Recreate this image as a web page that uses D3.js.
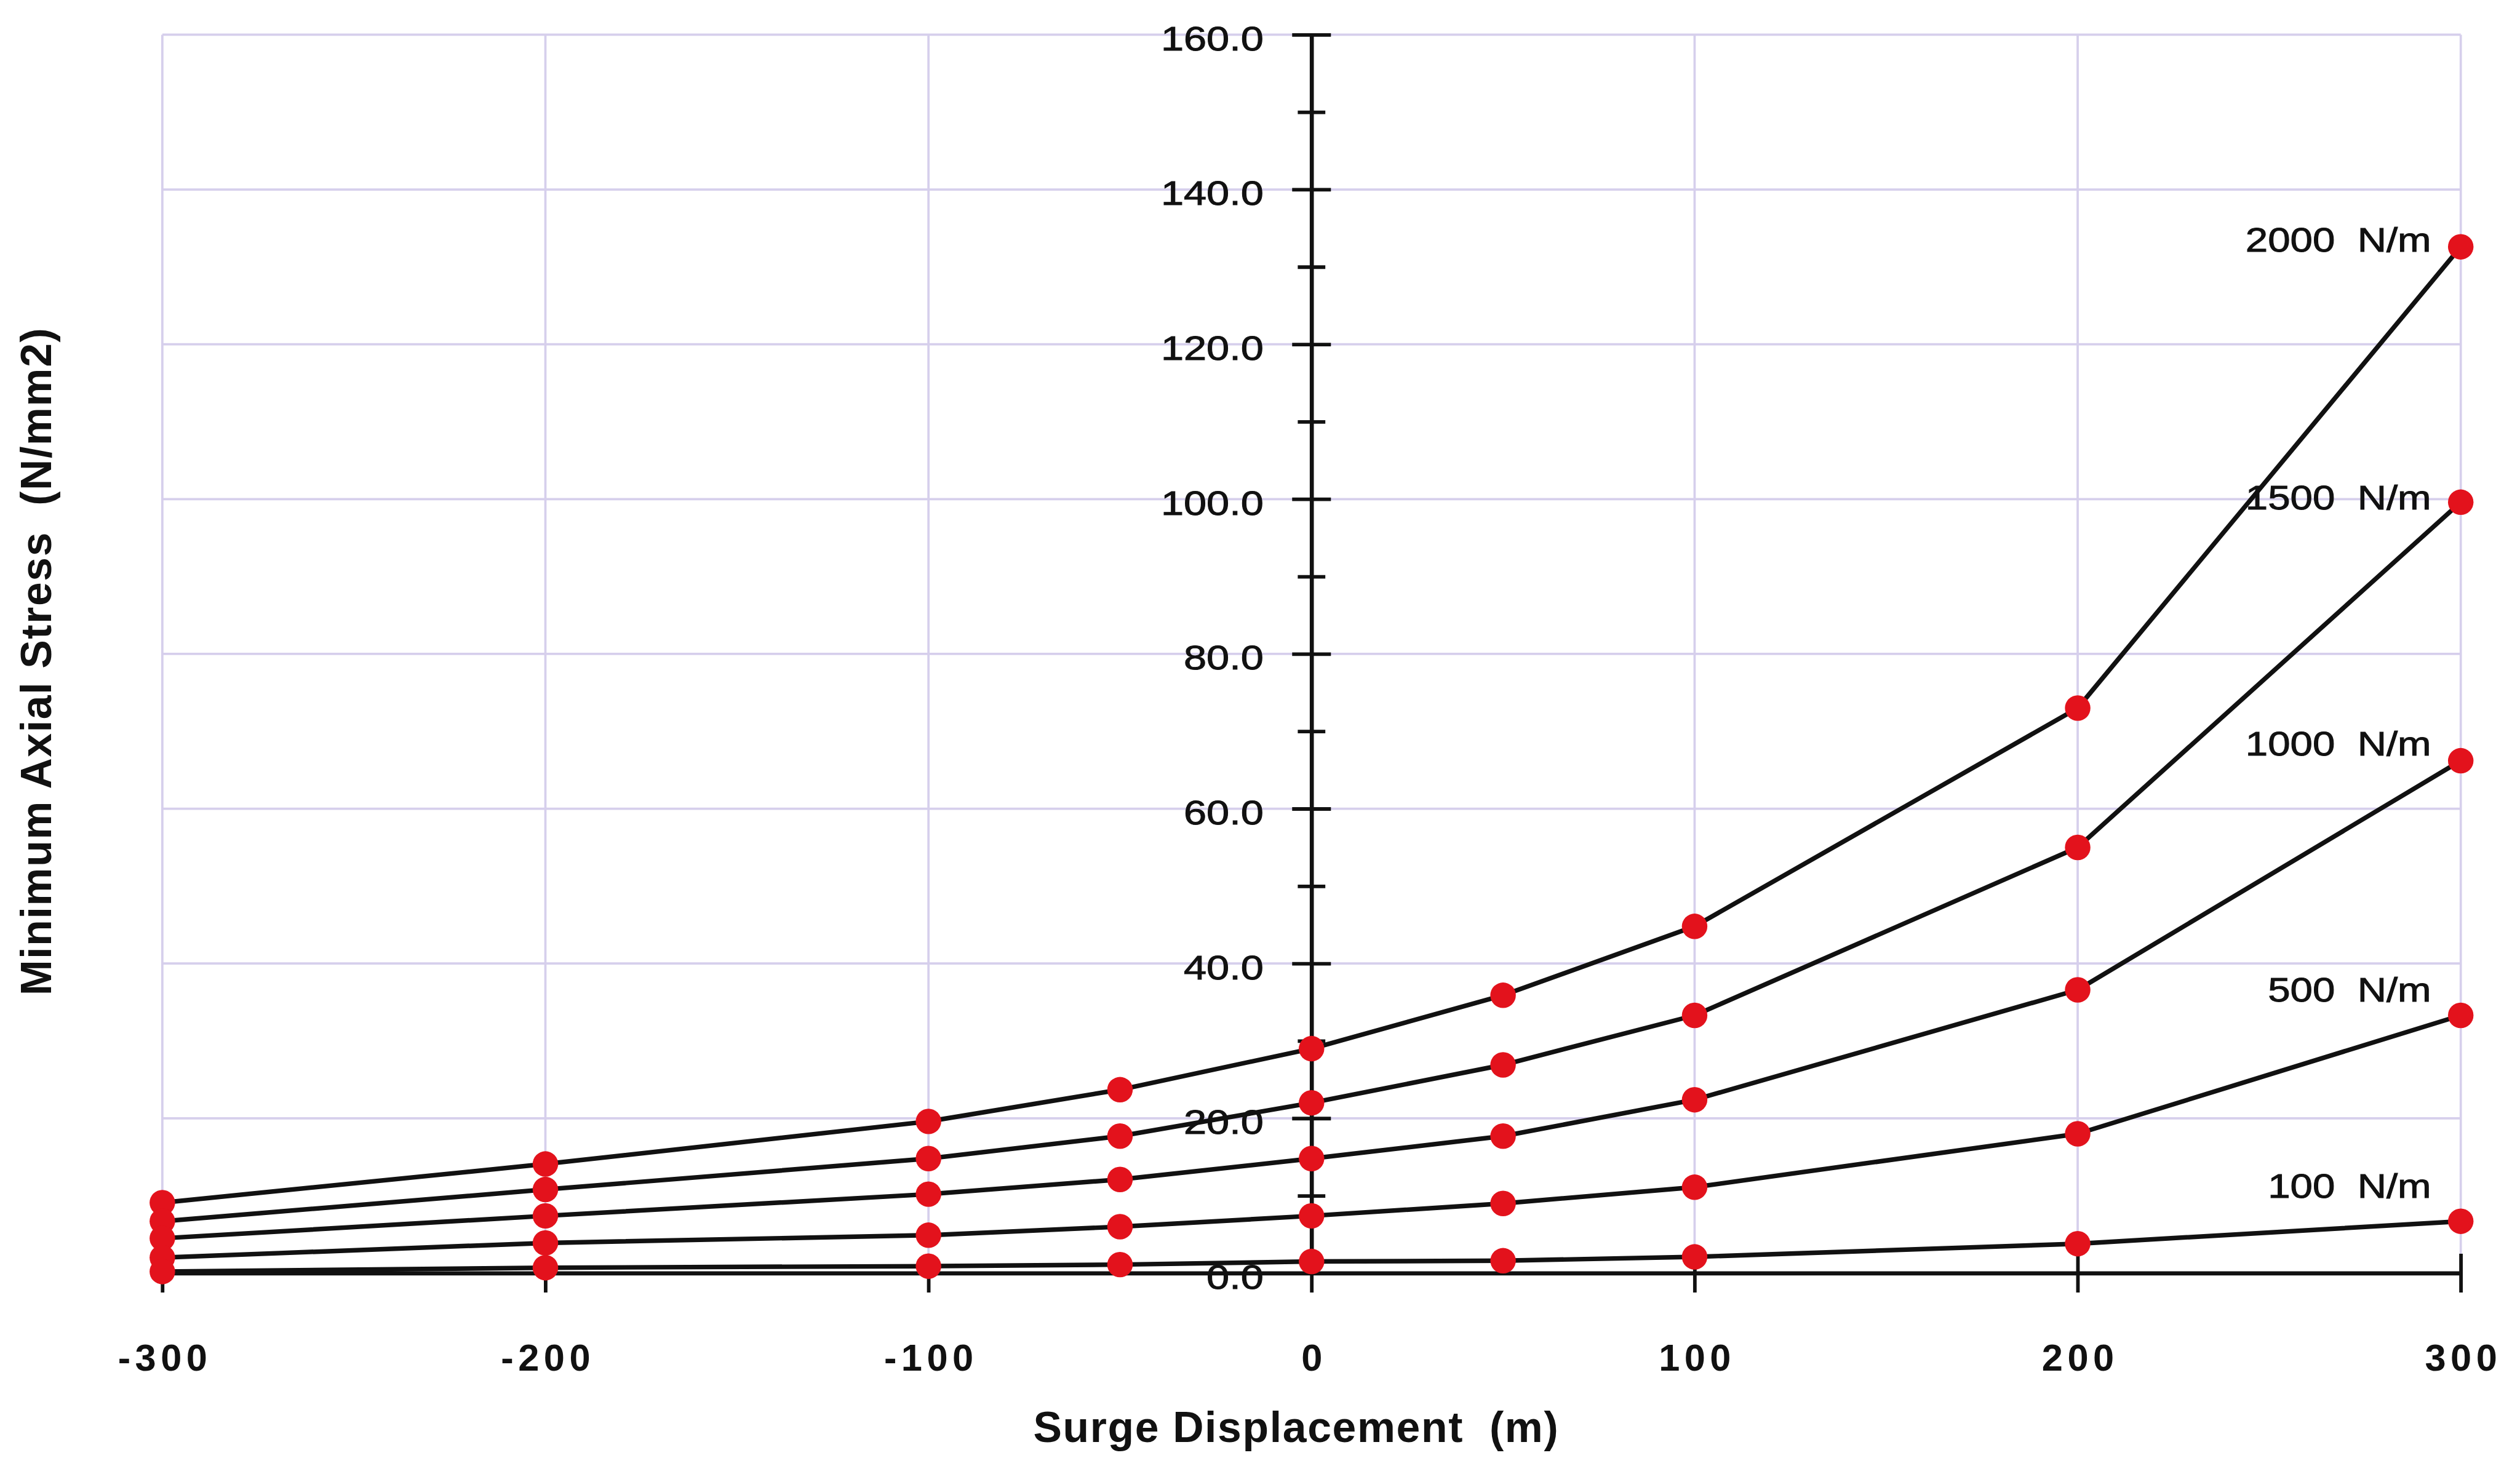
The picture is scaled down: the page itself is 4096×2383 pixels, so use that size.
<!DOCTYPE html>
<html>
<head>
<meta charset="utf-8">
<script src="https://cdn.jsdelivr.net/npm/d3@7"></script>
<style>
  html, body { margin: 0; padding: 0; background: #ffffff; overflow: hidden; }
  svg { display: block; }
  text { font-family: "Liberation Sans", Arial, Helvetica, sans-serif; white-space: pre; }
</style>
</head>
<body>
<svg id="chart" width="4096" height="2383" viewBox="0 0 4938 2873"></svg>
<script>
// Surge displacement (m) at which the stress was evaluated
const surge = [-300, -200, -100, -50, 0, 50, 100, 200, 300];

// Minimum axial stress (N/mm2) for each line load
const stress2000 = [9.1, 14.1, 19.6, 23.7, 29.0, 35.9, 44.8, 73.0, 132.6];
const stress1500 = [6.7, 10.8, 14.8, 17.7, 22.0, 26.9, 33.3, 55.0, 99.6];
const stress1000 = [4.5, 7.4, 10.2, 12.1, 14.8, 17.7, 22.4, 36.6, 66.2];
const stress500  = [2.0, 3.9, 4.9, 6.0, 7.4, 9.0, 11.1, 18.0, 33.3];
const stress100  = [0.2, 0.7, 0.9, 1.1, 1.5, 1.6, 2.1, 3.8, 6.7];

const seriesNames = ["2000  N/m", "1500  N/m", "1000  N/m", "500  N/m", "100  N/m"];

const xTickValues = [-300, -200, -100, 0, 100, 200, 300];
const yTickValues = [0, 10, 20, 30, 40, 50, 60, 70, 80, 90, 100, 110, 120, 130, 140, 150, 160];

const xTitle = "Surge Displacement  (m)";
const yTitle = "Minimum Axial Stress  (N/mm2)";

// ---- drawing ----
const series = [stress2000, stress1500, stress1000, stress500, stress100];
// vertical nudge of each end label relative to its last point (px)
const labelNudge = [10, 14, -10, -27, -46];
const ink = "#111";

const svg = d3.select("#chart");
const x = d3.scaleLinear().domain([-300, 300]).range([318, 4822]);
const y = d3.scaleLinear().domain([0, 160]).range([2495, 68]);

// light lavender grid
const grid = svg.append("g").attr("stroke", "#d6cfec").attr("stroke-width", 4.5);
grid.selectAll("line.h")
  .data(yTickValues.filter(v => v > 0 && v % 20 === 0))
  .join("line").attr("class", "h")
  .attr("x1", x(-300)).attr("x2", x(300))
  .attr("y1", d => y(d)).attr("y2", d => y(d));
grid.selectAll("line.v")
  .data(xTickValues.filter(v => v !== 0))
  .join("line").attr("class", "v")
  .attr("x1", d => x(d)).attr("x2", d => x(d))
  .attr("y1", y(0)).attr("y2", y(160));

// y axis through x = 0
const yAxis = svg.append("g")
  .attr("transform", `translate(${x(0)},0)`)
  .call(d3.axisLeft(y).tickValues(yTickValues).tickSize(0).tickSizeOuter(0)
    .tickFormat(d => d % 20 === 0 ? d.toFixed(1) : ""));
yAxis.attr("font-family", null).attr("font-size", null);
yAxis.select(".domain").attr("stroke", ink).attr("stroke-width", 8);
yAxis.selectAll(".tick line")
  .attr("stroke", ink).attr("stroke-width", 7)
  .attr("x1", d => d % 20 === 0 ? -38 : -27)
  .attr("x2", d => d % 20 === 0 ? 38 : 27);
yAxis.selectAll(".tick text")
  .attr("x", 0).attr("dy", null).attr("y", 0)
  .attr("transform", "translate(-94,30) scale(1.2,1)")
  .attr("text-anchor", "end")
  .attr("fill", ink).attr("stroke", ink).attr("stroke-width", 1.2)
  .style("font-size", "67px")
  .style("letter-spacing", "0px");

// x axis along y = 0
const xAxis = svg.append("g")
  .attr("transform", `translate(0,${y(0)})`)
  .call(d3.axisBottom(x).tickValues(xTickValues).tickSize(0).tickSizeOuter(0)
    .tickFormat(d => String(d)));
xAxis.attr("font-family", null).attr("font-size", null);
xAxis.select(".domain").attr("stroke", ink).attr("stroke-width", 8);
xAxis.selectAll(".tick line")
  .attr("stroke", ink).attr("stroke-width", 7)
  .attr("y1", -38).attr("y2", 38);
xAxis.selectAll(".tick text")
  .attr("y", 191).attr("dy", null).attr("dx", 4.5)
  .attr("text-anchor", "middle")
  .attr("fill", ink)
  .style("font-size", "74px")
  .style("font-weight", "bold")
  .style("letter-spacing", "9px");

// stress curves
const line = d3.line()
  .x((d, i) => x(surge[i]))
  .y(d => y(d));

svg.append("g").selectAll("path")
  .data(series)
  .join("path")
  .attr("d", line)
  .attr("fill", "none")
  .attr("stroke", ink)
  .attr("stroke-width", 9)
  .attr("stroke-linejoin", "round");

// red markers
const dots = svg.append("g").attr("fill", "#e3121c");
series.forEach(vals => {
  dots.append("g").selectAll("circle")
    .data(vals)
    .join("circle")
    .attr("cx", (d, i) => x(surge[i]))
    .attr("cy", d => y(d))
    .attr("r", 25);
});

// end labels
svg.append("g").selectAll("text")
  .data(seriesNames)
  .join("text")
  .attr("transform", (d, i) =>
    `translate(${x(300) - 58},${y(series[i][series[i].length - 1]) + labelNudge[i]}) scale(1.16,1)`)
  .attr("text-anchor", "end")
  .attr("fill", ink).attr("stroke", ink).attr("stroke-width", 1.2)
  .style("font-size", "68px")
  .text(d => d);

// axis titles
svg.append("text")
  .attr("x", 2540).attr("y", 2826)
  .attr("text-anchor", "middle")
  .attr("fill", ink)
  .style("font-size", "84px")
  .style("font-weight", "bold")
  .style("letter-spacing", "2px")
  .text(xTitle);

svg.append("text")
  .attr("transform", "translate(100,1296) rotate(-90)")
  .attr("text-anchor", "middle")
  .attr("fill", ink)
  .style("font-size", "84px")
  .style("font-weight", "bold")
  .style("letter-spacing", "2px")
  .text(yTitle);
</script>
</body>
</html>
